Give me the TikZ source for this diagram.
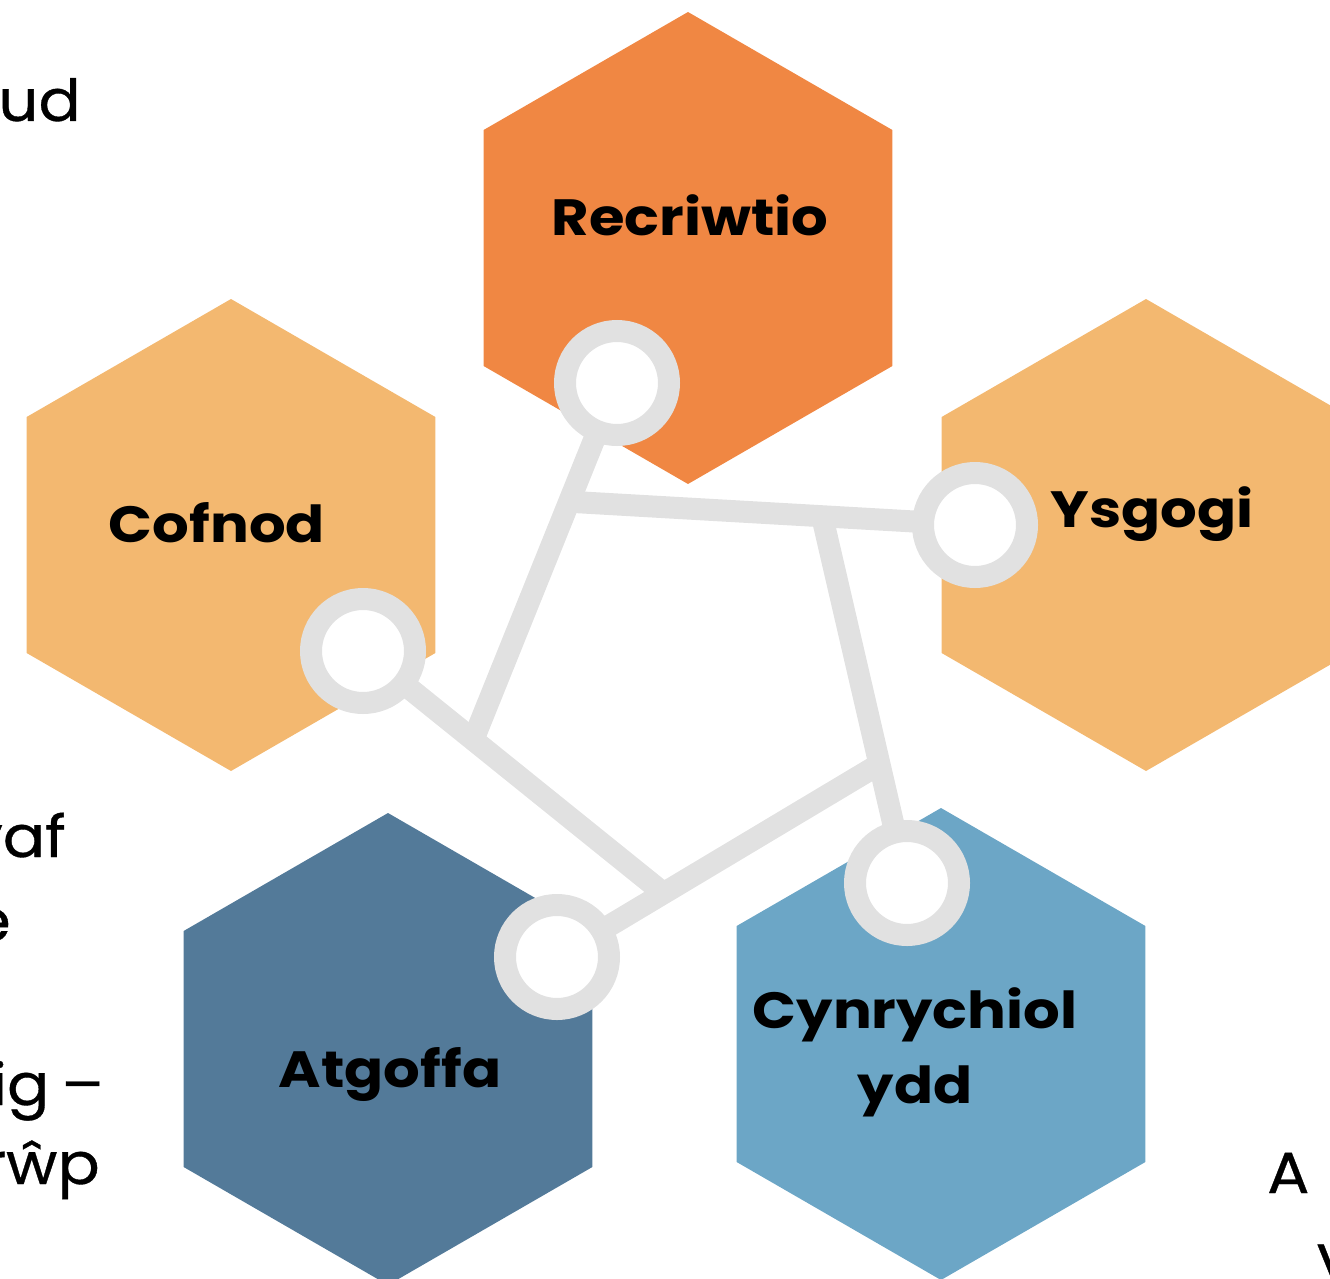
\documentclass[tikz,border=0pt]{standalone}
\usepackage{fontspec}
\setmainfont{Poppins}
\newfontfamily\labelfont{Poppins}[FakeStretch=1.13]
\newfontfamily\pagefont{Poppins}[FakeStretch=1.08, FakeBold=0.6]
\usetikzlibrary{shapes.geometric}
\definecolor{recorange}{HTML}{F08743}
\definecolor{lightorange}{HTML}{F3B870}
\definecolor{darkblue}{HTML}{537A99}
\definecolor{lightblue}{HTML}{6CA6C6}
\definecolor{linkgrey}{HTML}{E1E1E1}
\begin{document}
\begin{tikzpicture}[x=1pt,y=-1pt,
	hexa/.style={regular polygon, regular polygon sides=6, shape border rotate=30, minimum size=472pt, inner sep=0pt, outer sep=0pt},
	ring/.style={circle, draw=linkgrey, line width=22pt, fill=white, minimum size=104pt, inner sep=0pt},
	link/.style={draw=linkgrey, line width=22pt},
	hexlabel/.style={font=\labelfont\fontsize{51}{75}\selectfont\bfseries, align=center, inner sep=0pt, anchor=base},
	bgtext/.style={font=\pagefont\fontsize{58}{70}\selectfont, inner sep=0pt}]
	\useasboundingbox (0,0) rectangle (1330,1279);
	\clip (0,0) rectangle (1330,1279);
	% text of the page behind
	\node[bgtext, anchor=base east] (bgud) at (81,121) {ud};
	\node[bgtext, anchor=base east] (bgvaf) at (66,857) {vaf};
	\node[bgtext, anchor=base east] (bge) at (11,941) {e};
	\node[bgtext, anchor=base east] (bgig) at (104,1105) {ig\hspace{12pt}–};
	\node[bgtext, anchor=base east] (bgrwp) at (100,1184) {rŵp};
	\node[bgtext, anchor=base west] (bga) at (1267,1193) {A};
	\node[bgtext, anchor=base west] (bgv) at (1316,1285) {V};
	% hexagons
	\node[hexa, fill=recorange] (recr) at (688,248) {};
	\node[hexa, fill=lightorange] (cofn) at (231,535) {};
	\node[hexa, fill=lightorange] (ysgo) at (1146,535) {};
	\node[hexa, fill=darkblue] (atgo) at (388,1049) {};
	\node[hexa, fill=lightblue] (cynr) at (941,1044) {};
	\node[hexlabel] (recrtext) at (690,235) {Recriwtio};
	\node[hexlabel] (cofntext) at (217,542) {Cofnod};
	\node[hexlabel] (ysgotext) at (1152,527) {Ysgogi};
	\node[hexlabel] (atgotext) at (390,1087) {Atgoffa};
	\node[hexlabel] (cynrtext) at (915,1103) {Cynrychiol\\ydd};
	% links
	\coordinate (jA) at (476,733);
	\coordinate (jB) at (574,502);
	\coordinate (jC) at (822,516);
	\coordinate (jD) at (878,765);
	\coordinate (jE) at (662,892);
	\coordinate (recrc) at (617,383);
	\coordinate (cofnc) at (363,651);
	\coordinate (ysgoc) at (975,525);
	\coordinate (atgoc) at (557,957);
	\coordinate (cynrc) at (907,883);
	\draw[link] (recrc) -- (jA);
	\draw[link] (jB) -- (ysgoc);
	\draw[link] (jC) -- (cynrc);
	\draw[link] (jD) -- (atgoc);
	\draw[link] (cofnc) -- (jE);
	\node[ring] (recrring) at (recrc) {};
	\node[ring] (cofnring) at (cofnc) {};
	\node[ring] (ysgoring) at (ysgoc) {};
	\node[ring] (atgoring) at (atgoc) {};
	\node[ring] (cynrring) at (cynrc) {};
\end{tikzpicture}
\end{document}
